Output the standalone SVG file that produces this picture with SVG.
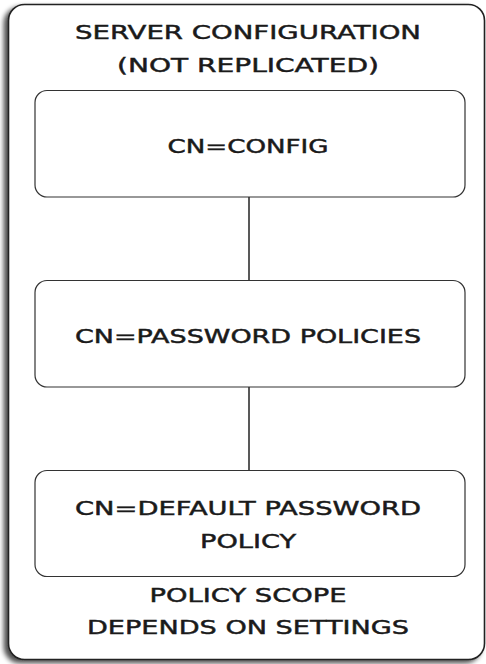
<svg xmlns="http://www.w3.org/2000/svg" width="486" height="664" viewBox="0 0 486 664">
<style>
.box{fill:#fff;stroke:#333;stroke-width:1.2}
.outer{fill:#fff;stroke:#222;stroke-width:1.6}
.t{font-family:"DejaVu Sans",sans-serif;font-size:19px;fill:#1a1a1a;stroke:#1a1a1a;stroke-width:0.45;text-anchor:middle}
.edge{stroke:#222;stroke-width:1.5;fill:none}
</style>
<defs>
<filter id="sh" x="-5%" y="-5%" width="110%" height="110%">
<feGaussianBlur in="SourceAlpha" stdDeviation="2.5"/>
<feOffset dx="-4" dy="3" result="b"/>
<feComponentTransfer><feFuncA type="linear" slope="0.7"/></feComponentTransfer>
<feMerge><feMergeNode/><feMergeNode in="SourceGraphic"/></feMerge>
</filter>
</defs>
<g id="container">
<rect class="outer" x="8.5" y="4.5" width="476" height="655" rx="16" filter="url(#sh)"/>
<text class="t" x="248" y="39" textLength="346" lengthAdjust="spacingAndGlyphs">SERVER CONFIGURATION</text>
<text class="t" x="248" y="72" textLength="262" lengthAdjust="spacingAndGlyphs">(NOT REPLICATED)</text>
<text class="t" x="248" y="602" textLength="197" lengthAdjust="spacingAndGlyphs">POLICY SCOPE</text>
<text class="t" x="248" y="634" textLength="322" lengthAdjust="spacingAndGlyphs">DEPENDS ON SETTINGS</text>
</g>
<g id="connectors">
<line class="edge" x1="249" y1="197" x2="249" y2="280"/>
<line class="edge" x1="249" y1="387" x2="249" y2="470"/>
</g>
<g id="config">
<rect class="box" x="35" y="90.5" width="430" height="106.5" rx="12"/>
<text class="t" x="248" y="153" textLength="161" lengthAdjust="spacingAndGlyphs">CN=CONFIG</text>
</g>
<g id="policies">
<rect class="box" x="35" y="280.5" width="430" height="106.5" rx="12"/>
<text class="t" x="248" y="343" textLength="346" lengthAdjust="spacingAndGlyphs">CN=PASSWORD POLICIES</text>
</g>
<g id="default">
<rect class="box" x="35" y="470.5" width="430" height="106" rx="12"/>
<text class="t" x="248" y="515" textLength="346" lengthAdjust="spacingAndGlyphs">CN=DEFAULT PASSWORD</text>
<text class="t" x="248" y="548" textLength="96" lengthAdjust="spacingAndGlyphs">POLICY</text>
</g>
</svg>
